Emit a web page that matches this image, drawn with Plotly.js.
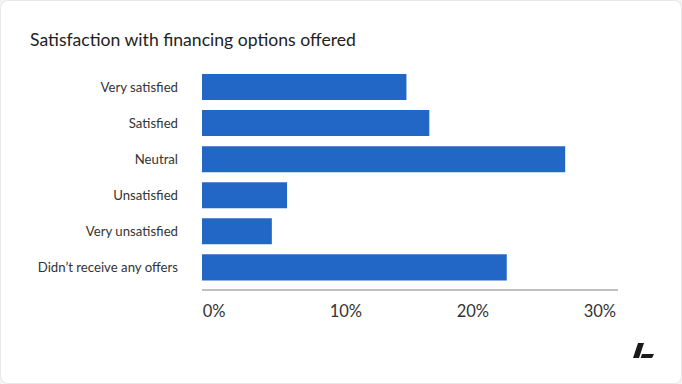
<!DOCTYPE html>
<html>
<head>
<meta charset="utf-8">
<script src="https://cdn.plot.ly/plotly-3.0.1.min.js"></script>
<style>
  html, body { margin:0; padding:0; background:#f4f4f4; }
  #card { position:absolute; left:0; top:0; width:680px; height:382px; background:#fff; border:1px solid #e8e8e8; border-radius:8px; overflow:hidden; }
  #chart { position:absolute; left:-1px; top:-1px; width:682px; height:384px; }
  #logo { position:absolute; left:632px; top:341px; }
</style>
</head>
<body>
<div id="card"><div id="chart"></div>
<svg id="logo" width="24" height="18" viewBox="0 0 24 18">
  <path d="M5 1 L11 1 L6 16 L0 16 Z" fill="#1a1a1a"/>
  <path d="M9 12 L21 12 L19 16 L7.6 16 Z" fill="#1a1a1a"/>
</svg>
</div>
<script>
const categories = ["Very satisfied", "Satisfied", "Neutral", "Unsatisfied", "Very unsatisfied", "Didn\u2019t receive any offers"];
const values = [16.1, 17.9, 28.6, 6.7, 5.5, 24.0];
const tickValues = [0, 10, 20, 30];
const tickLabels = ["0%", "10%", "20%", "30%"];

const data = [{
  type: 'bar',
  orientation: 'h',
  y: categories,
  x: values,
  marker: { color: '#2367c6' },
  hoverinfo: 'none'
}];

const layout = {
  width: 682, height: 384,
  paper_bgcolor: 'rgba(0,0,0,0)',
  plot_bgcolor: 'rgba(0,0,0,0)',
  margin: { l: 202, r: 64, t: 69, b: 95.4, pad: 0 },
  showlegend: false,
  bargap: 10/36,
  font: { family: 'Lato, "Open Sans", sans-serif', color: '#333' },
  title: {
    text: 'Satisfaction with financing options offered',
    x: 30/682, xref: 'container', xanchor: 'left',
    y: 1 - 40/384, yref: 'container', yanchor: 'middle',
    font: { size: 17.6, color: '#222', family: 'Lato, sans-serif' }
  },
  xaxis: {
    range: [0, 32.76],
    tickvals: tickValues,
    ticktext: tickLabels,
    showgrid: false, zeroline: false,
    showline: true, linecolor: '#c0c0c0', linewidth: 1.5,
    ticks: '',
    ticklabelposition: 'outside right',
    ticklabelstandoff: 7,
    tickfont: { size: 16.5, color: '#333' }
  },
  yaxis: {
    type: 'category',
    range: [5.6, -0.5],
    showgrid: false, zeroline: false, showline: false,
    ticks: '',
    ticklabelstandoff: 23,
    tickfont: { size: 13.2, color: '#333' }
  }
};

Plotly.newPlot('chart', data, layout, { displayModeBar: false, staticPlot: true });
</script>
</body>
</html>
